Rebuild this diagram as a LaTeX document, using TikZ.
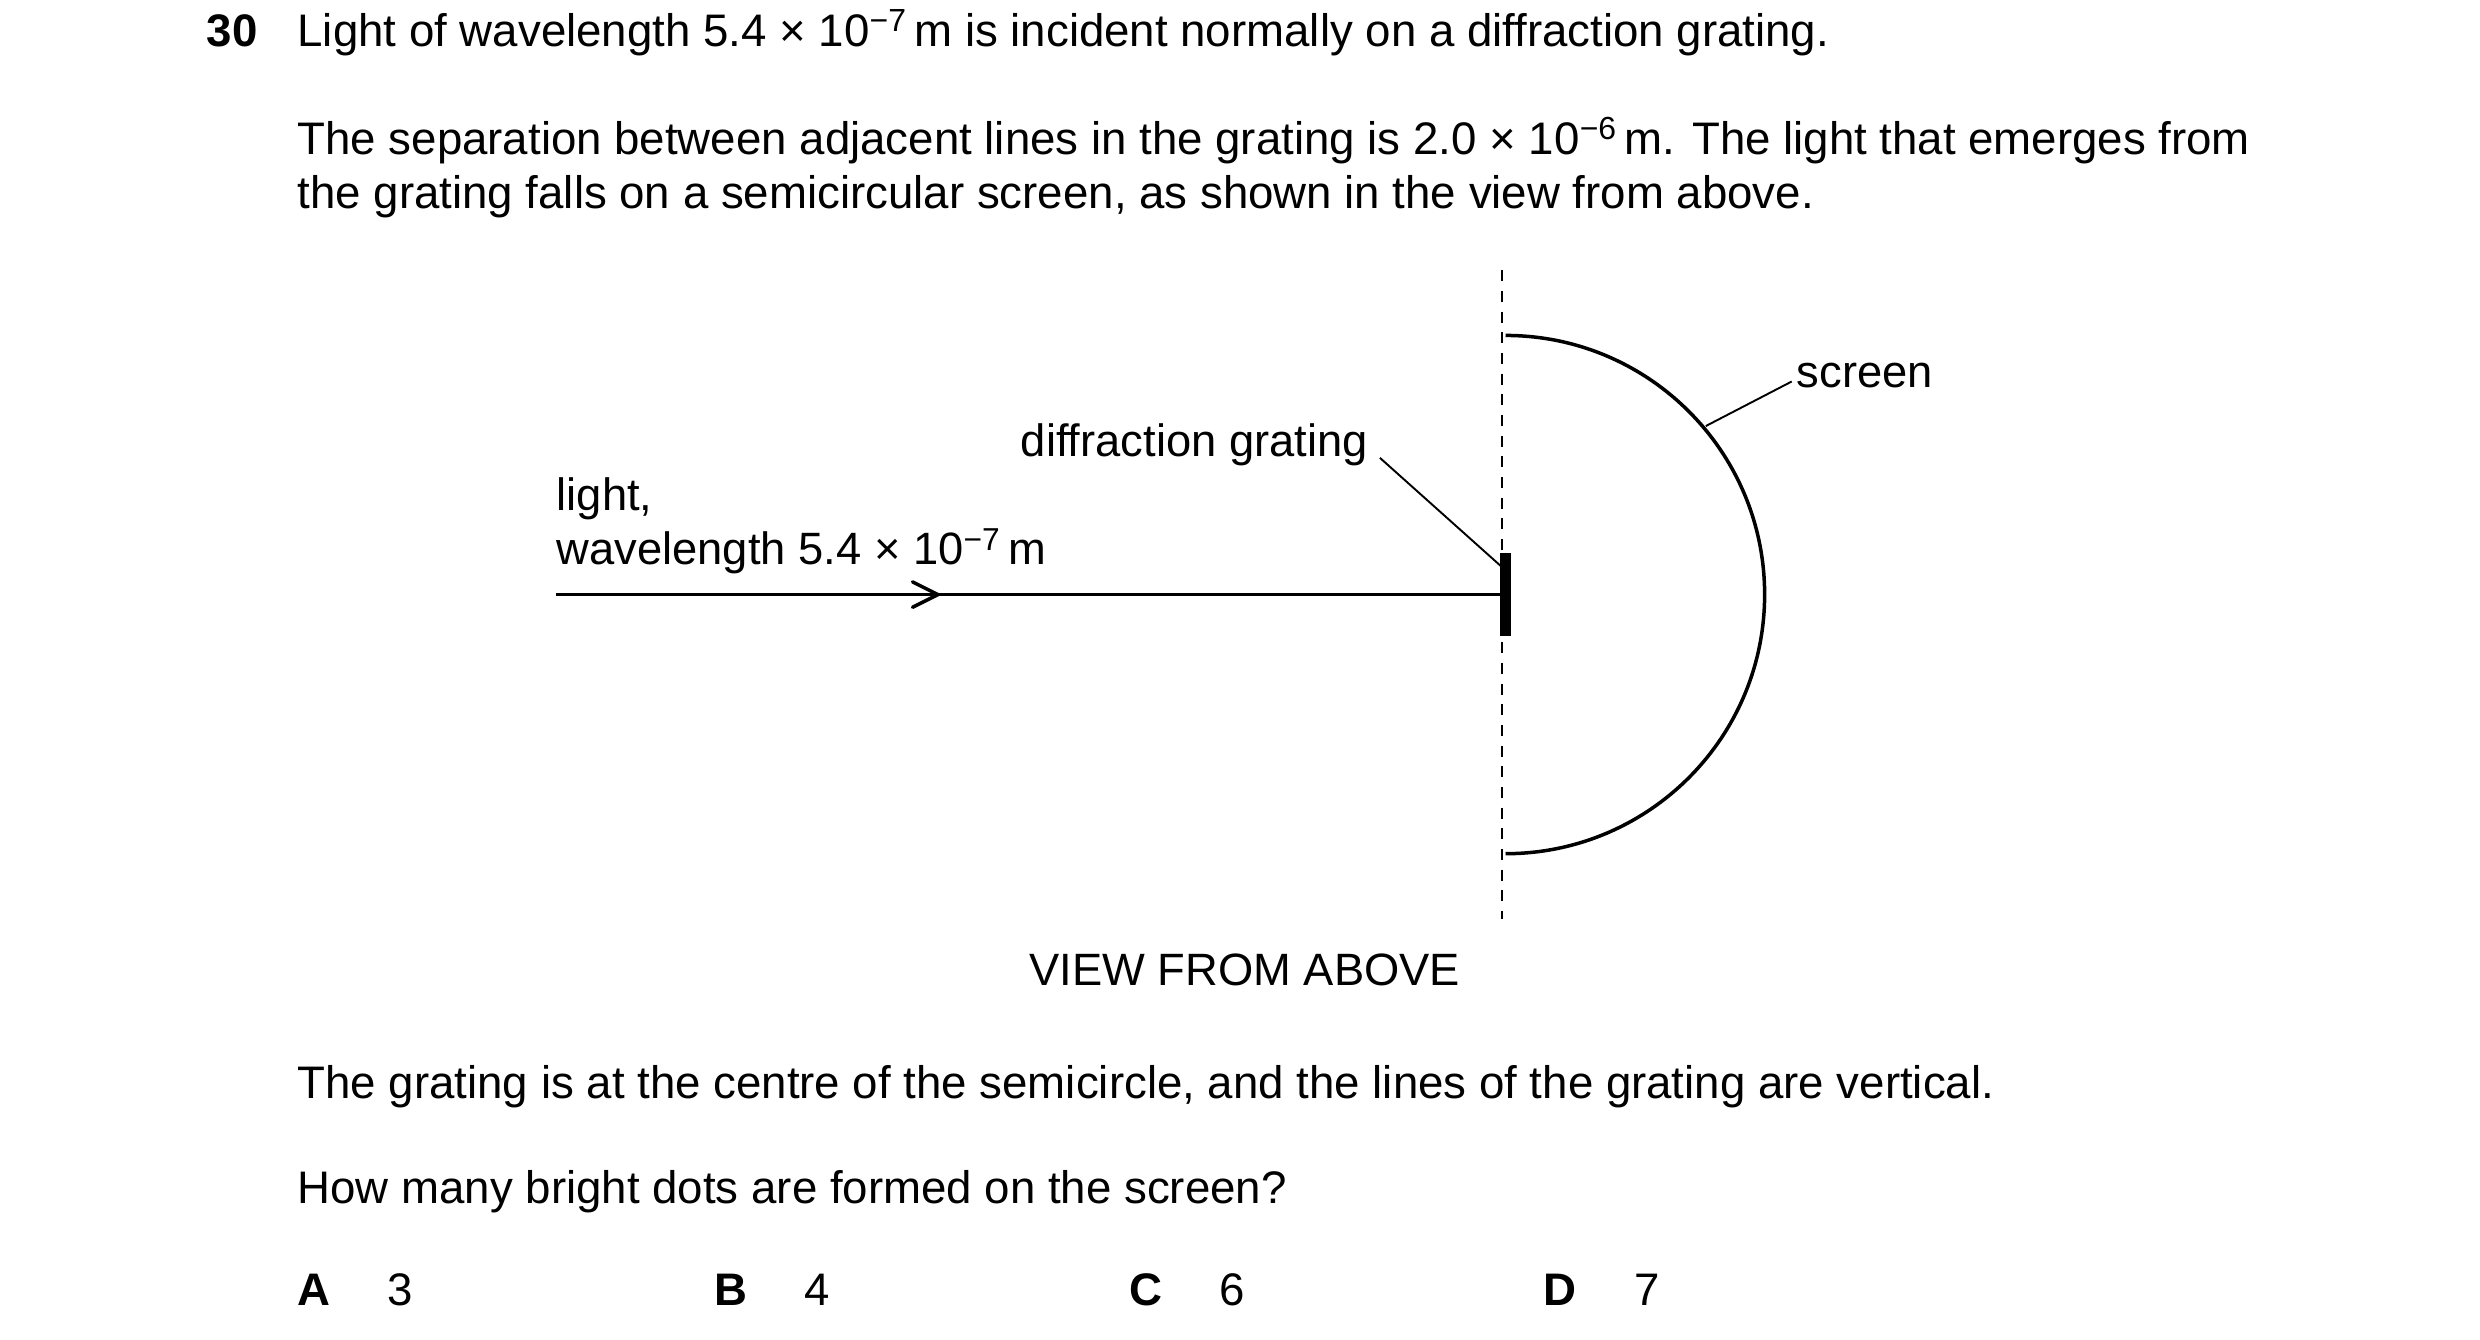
\documentclass[tikz,border=0pt]{standalone}
\usepackage{fontspec}
\setmainfont{Liberation Sans}
\begin{document}
\begin{tikzpicture}[x=1pt,y=-1pt,
  txt/.style={anchor=base west,inner sep=0pt,font=\fontsize{28.7}{33}\selectfont},
  lbl/.style={anchor=base west,inner sep=0pt,font=\fontsize{28.5}{33}\selectfont},
  ln/.style={line width=2.2pt}]
\useasboundingbox (0,0) rectangle (1560,842.3);
\node[txt] (q) at (130,29) {\textbf{30}};
\node[txt] (l1) at (187,29) {Light of wavelength 5.4 × 10\textsuperscript{−7}\,m is incident normally on a diffraction grating.};
\node[txt] (l2) at (187,97) {The separation between adjacent lines in the grating is 2.0 × 10\textsuperscript{−6}\,m. The light that emerges from};
\node[txt] (l3) at (187,131) {the grating falls on a semicircular screen, as shown in the view from above.};
% diagram
\draw[dash pattern=on 7pt off 6pt,line width=1.2pt] (945,170) coordinate (d1) -- (945,578) coordinate (d2);
\coordinate (g) at (947,374);
\coordinate (src) at (350,374);
\draw[ln] (src) -- (g);
\coordinate (am) at (590,374);
\draw[ln,line cap=round] (574,366) -- (am) -- (574,382);
\draw[line width=7pt] (947,348) coordinate (gt) -- (947,400) coordinate (gb);
\draw[ln] (947,211) arc[start angle=-90,end angle=90,radius=163];
\node[lbl] (dg) at (642,287) {diffraction grating};
\draw[line width=1.2pt] (868,288) -- (944,356);
\node[lbl] (sc) at (1130,244) {screen};
\draw[line width=1.2pt] (1127,240) -- (1073,268);
\node[lbl] (lt) at (350,321) {light,};
\node[lbl] (wl) at (350,355) {wavelength 5.4 × 10\textsuperscript{−7}\,m};
\node[lbl,anchor=base] (vfa) at (783,620) {VIEW FROM ABOVE};
\node[txt] (l4) at (187,691) {The grating is at the centre of the semicircle, and the lines of the grating are vertical.};
\node[txt] (l5) at (187,757) {How many bright dots are formed on the screen?};
\node[txt] (a) at (187,821) {\textbf{A}\hspace{36pt}3};
\node[txt] (b) at (449,821) {\textbf{B}\hspace{36pt}4};
\node[txt] (c) at (710,821) {\textbf{C}\hspace{36pt}6};
\node[txt] (d) at (971,821) {\textbf{D}\hspace{36pt}7};
\end{tikzpicture}
\end{document}
